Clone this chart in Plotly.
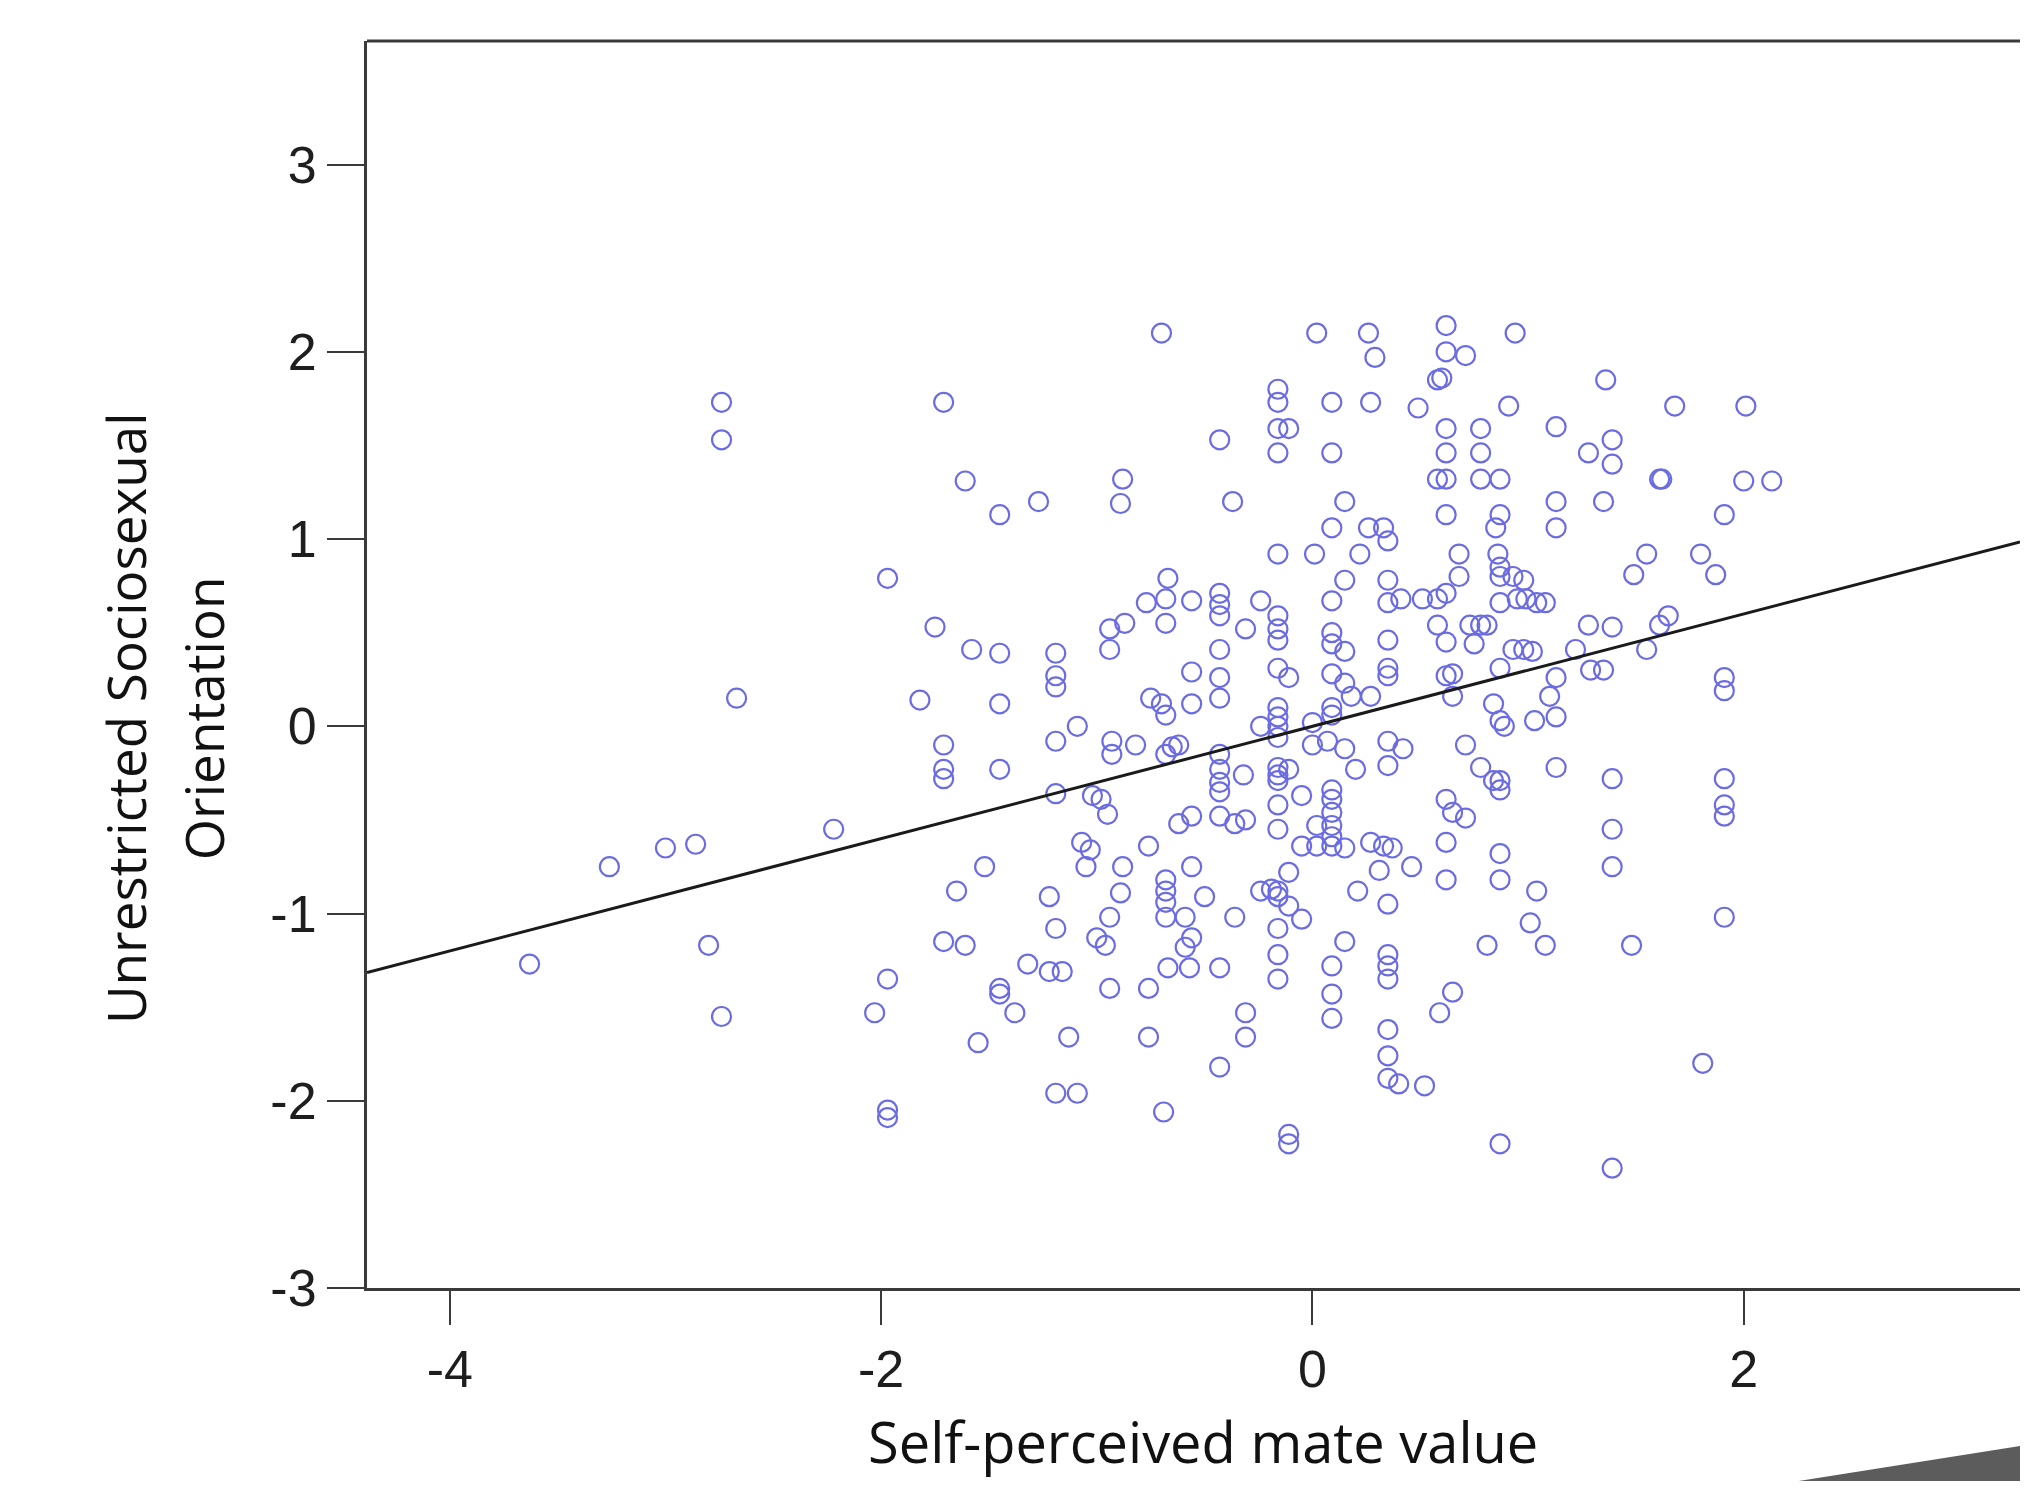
import plotly.graph_objects as go

# ---- data: (self-perceived mate value, unrestricted SOI) ----
band_far_left = [(-3.63,-1.27),(-3.26,-0.75),(-3.00,-0.65),(-2.86,-0.63),(-2.80,-1.17),(-2.74,1.73),
    (-2.74,1.53),(-2.74,-1.55),(-2.67,0.15),(-2.22,-0.55),(-1.97,0.79),(-2.03,-1.53),(-1.97,-1.35),
    (-1.97,-2.05),(-1.97,-2.09),(-1.82,0.14),(-1.71,1.73),(-1.75,0.53),(-1.71,-0.10),(-1.71,-0.23),
    (-1.71,-0.28),(-1.65,-0.88),(-1.71,-1.15),(-1.61,-1.17),(-1.61,1.31),(-1.58,0.41),(-1.55,-1.69),
    (-1.52,-0.75)]
band_left = [(-1.45,1.13),(-1.45,0.39),(-1.45,0.12),(-1.45,-0.23),(-1.45,-1.40),(-1.45,-1.43),(-1.38,-1.53),
    (-1.32,-1.27),(-1.27,1.20),(-1.22,-1.31),(-1.16,-1.31),(-1.22,-0.91),(-1.19,0.39),(-1.19,0.27),
    (-1.19,0.21),(-1.19,-0.08),(-1.19,-0.36),(-1.19,-1.08),(-1.19,-1.96),(-1.09,-1.96),(-1.13,-1.66),
    (-1.09,0.0),(-1.07,-0.62),(-1.03,-0.66),(-1.05,-0.75),(-1.02,-0.37),(-0.98,-0.39),(-0.95,-0.47),
    (-1.00,-1.13),(-0.96,-1.17),(-0.94,-1.02),(-0.94,-1.40),(-0.94,0.52),(-0.87,0.55),(-0.94,0.41),
    (-0.93,-0.08),(-0.93,-0.15),(-0.88,1.32),(-0.89,1.19),(-0.88,-0.75),(-0.89,-0.89),(-0.82,-0.10),
    (-0.76,-1.66),(-0.76,-1.40),(-0.76,-0.64),(-0.77,0.66),(-0.75,0.15),(-0.70,2.10),(-0.70,0.12),
    (-0.69,-2.06),(-0.68,0.68),(-0.67,0.79),(-0.68,0.55),(-0.68,0.06),(-0.68,-0.15),(-0.65,-0.11),
    (-0.62,-0.10),(-0.68,-0.82),(-0.68,-0.88),(-0.68,-0.94),(-0.68,-1.02),(-0.67,-1.29),(-0.62,-0.52),
    (-0.59,-1.02),(-0.59,-1.18),(-0.57,-1.29),(-0.56,0.29),(-0.56,0.12),(-0.56,0.67),(-0.56,-0.48),
    (-0.56,-0.75),(-0.56,-1.13),(-0.50,-0.91)]
band_mid_left = [(-0.43,1.53),(-0.43,0.71),(-0.43,0.65),(-0.43,0.59),(-0.43,0.41),(-0.43,0.26),(-0.43,0.15),
    (-0.43,-0.15),(-0.43,-0.23),(-0.43,-0.30),(-0.43,-0.35),(-0.43,-0.48),(-0.43,-1.29),(-0.43,-1.82),
    (-0.37,1.20),(-0.36,-1.02),(-0.36,-0.52),(-0.32,-0.26),(-0.31,0.52),(-0.31,-0.50),(-0.31,-1.53),
    (-0.31,-1.66),(-0.24,0.67),(-0.24,0.0),(-0.24,-0.88),(-0.19,-0.87),(-0.16,1.80),(-0.16,1.73),
    (-0.16,1.59),(-0.16,1.46),(-0.11,1.59),(-0.16,0.92),(-0.16,0.59),(-0.16,0.52),(-0.16,0.46),
    (-0.16,0.31),(-0.16,0.10),(-0.16,0.05),(-0.16,0.0),(-0.16,-0.06),(-0.16,-0.22),(-0.16,-0.26),
    (-0.16,-0.29),(-0.16,-0.42),(-0.16,-0.55),(-0.16,-0.88),(-0.16,-0.91),(-0.16,-1.08),(-0.16,-1.22),
    (-0.16,-1.35),(-0.11,-0.23),(-0.11,0.26),(-0.11,-2.18),(-0.11,-2.23),(-0.11,-0.78),(-0.11,-0.96),
    (-0.05,-1.03),(-0.05,-0.64),(-0.05,-0.37)]
band_mid_right = [(0.0,-0.10),(0.0,0.02),(0.02,2.10),(0.01,0.92),(0.02,-0.53),(0.02,-0.64),(0.07,-0.08),
    (0.09,1.73),(0.09,1.46),(0.09,1.06),(0.09,0.67),(0.09,0.50),(0.09,0.44),(0.09,0.28),(0.09,0.10),
    (0.09,0.06),(0.09,-0.34),(0.09,-0.39),(0.09,-0.46),(0.09,-0.53),(0.09,-0.59),(0.09,-0.64),
    (0.09,-1.28),(0.09,-1.43),(0.09,-1.56),(0.15,1.20),(0.15,0.78),(0.15,0.40),(0.15,0.23),(0.18,0.16),
    (0.15,-0.12),(0.15,-0.65),(0.15,-1.15),(0.20,-0.23),(0.21,-0.88),(0.22,0.92),(0.26,2.10),(0.29,1.97),
    (0.27,1.73),(0.26,1.06),(0.27,0.16),(0.27,-0.62),(0.31,-0.77),(0.33,1.06),(0.35,0.99),(0.35,0.78),
    (0.35,0.66),(0.35,0.46),(0.35,0.31),(0.35,0.27),(0.35,-0.08),(0.35,-0.21),(0.33,-0.64),(0.37,-0.65),
    (0.35,-0.95),(0.35,-1.22),(0.35,-1.28),(0.35,-1.35),(0.35,-1.62),(0.35,-1.76),(0.35,-1.88),
    (0.40,-1.91),(0.41,0.68),(0.42,-0.12),(0.46,-0.75),(0.49,1.70)]
band_right = [(0.51,0.68),(0.52,-1.92),(0.58,0.68),(0.58,0.54),(0.58,1.32),(0.58,1.85),(0.62,2.14),
    (0.62,2.00),(0.60,1.86),(0.62,1.59),(0.62,1.46),(0.62,1.32),(0.62,1.13),(0.62,0.71),(0.62,0.45),
    (0.62,0.27),(0.65,0.28),(0.62,-0.39),(0.62,-0.62),(0.62,-0.82),(0.59,-1.53),(0.65,-1.42),
    (0.65,-0.46),(0.71,-0.49),(0.65,0.16),(0.68,0.80),(0.68,0.92),(0.71,1.98),(0.71,-0.10),(0.73,0.54),
    (0.78,0.54),(0.81,0.54),(0.78,1.59),(0.78,1.46),(0.78,1.32),(0.75,0.44),(0.78,-0.22),(0.81,-1.17),
    (0.84,-0.29),(0.85,1.06),(0.87,1.13),(0.86,0.92),(0.87,0.85),(0.87,0.80),(0.87,1.32),(0.87,0.66),
    (0.87,0.31),(0.84,0.12),(0.87,0.03),(0.89,0.0),(0.87,-0.29),(0.87,-0.34),(0.87,-0.68),(0.87,-0.82),
    (0.87,-2.23),(0.91,1.71),(0.94,2.10),(0.93,0.80),(0.98,0.78),(0.95,0.68),(0.99,0.68),(0.93,0.41),
    (0.98,0.41),(1.02,0.40)]
band_far_right = [(1.04,0.66),(1.08,0.66),(1.03,0.03),(1.04,-0.88),(1.01,-1.05),(1.08,-1.17),(1.10,0.16),
    (1.13,1.20),(1.13,1.06),(1.13,1.60),(1.13,0.26),(1.13,0.05),(1.13,-0.22),(1.22,0.41),(1.28,0.54),
    (1.28,1.46),(1.29,0.30),(1.35,0.30),(1.35,1.20),(1.36,1.85),(1.39,1.53),(1.39,1.40),(1.39,0.53),
    (1.39,-0.28),(1.39,-0.55),(1.39,-0.75),(1.39,-2.36),(1.48,-1.17),(1.49,0.81),(1.55,0.92),(1.55,0.41),
    (1.61,1.32),(1.62,1.32),(1.61,0.54),(1.65,0.59),(1.68,1.71),(1.80,0.92),(1.81,-1.80),(1.87,0.81),
    (1.91,1.13),(1.91,0.26),(1.91,0.19),(1.91,-0.28),(1.91,-0.42),(1.91,-0.48),(1.91,-1.02),(2.01,1.71),
    (2.00,1.31),(2.13,1.31)]

fit_slope = 0.30
fit_intercept = 0.0

x_range = [-4.384, 3.281]
y_range = [-3.0, 3.66]
x_ticks = [-4, -2, 0, 2]
x_tick_text = ["-4", "-2", "0", "2"]
y_ticks = [-3, -2, -1, 0, 1, 2, 3]
y_tick_text = ["-3", "-2", "-1", "0", "1", "2", "3"]

points = band_far_left + band_left + band_mid_left + band_mid_right + band_right + band_far_right
mate_value = [p[0] for p in points]
soi = [p[1] for p in points]

marker_color = "#6c6ce2"
fig = go.Figure()
fig.add_trace(go.Scatter(
    x=mate_value, y=soi, mode="markers",
    marker=dict(symbol="circle-open", size=19, color=marker_color, line=dict(width=2.2, color=marker_color)),
    showlegend=False, hoverinfo="x+y"))
fig.add_trace(go.Scatter(
    x=x_range, y=[fit_intercept + fit_slope * v for v in x_range], mode="lines",
    line=dict(color="#1a1a1a", width=3), showlegend=False, hoverinfo="skip"))

axis_common = dict(showgrid=False, zeroline=False, showline=True, linecolor="#3a3a3a", linewidth=3,
                   ticks="outside", tickcolor="#3a3a3a", tickwidth=2,
                   tickfont=dict(family="Liberation Sans, Arial", size=52, color="#1e1e1e"))
fig.update_layout(
    width=2012, height=1473,
    margin=dict(l=359, r=0, t=33, b=193, autoexpand=False),
    paper_bgcolor="white", plot_bgcolor="white",
    xaxis=dict(range=x_range, tickvals=x_ticks, ticktext=x_tick_text, ticklen=34, **axis_common),
    yaxis=dict(range=y_range, tickvals=y_ticks, ticktext=y_tick_text, ticklen=37, **axis_common),
    shapes=[
        dict(type="line", xref="paper", yref="paper", x0=0, x1=1, y0=1, y1=1,
             line=dict(color="#3a3a3a", width=3)),
        dict(type="path", xref="paper", yref="paper",
             path="M 0.866 -0.1548 L 1.0 -0.1267 L 1.0 -0.1548 Z",
             fillcolor="#5c5c5c", line=dict(width=0)),
    ],
    annotations=[
        dict(text="Self-perceived mate value", xref="paper", yref="paper",
             x=0.5057, y=-0.1548, xanchor="center", yanchor="bottom", showarrow=False,
             font=dict(family="Open Sans", size=56, color="#111")),
        dict(text="Unrestricted Sociosexual", xref="paper", yref="paper",
             x=-0.1464, y=0.457, xanchor="center", yanchor="middle", showarrow=False, textangle=-90,
             font=dict(family="Open Sans", size=53, color="#111")),
        dict(text="Orientation", xref="paper", yref="paper",
             x=-0.0992, y=0.457, xanchor="center", yanchor="middle", showarrow=False, textangle=-90,
             font=dict(family="Open Sans", size=53, color="#111")),
    ],
)
fig.write_html("out.html")
